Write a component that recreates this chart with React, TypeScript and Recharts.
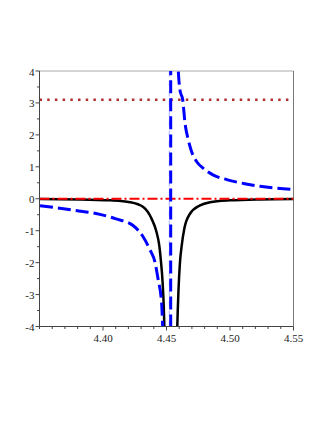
import React from "react";
import { LineChart, Line, XAxis, YAxis, ReferenceLine } from "recharts";

// x tick positions (minor every 0.01) and labelled ones
const xTicks = [
  4.35, 4.36, 4.37, 4.38, 4.39, 4.4, 4.41, 4.42, 4.43, 4.44, 4.45, 4.46, 4.47,
  4.48, 4.49, 4.5, 4.51, 4.52, 4.53, 4.54, 4.55,
];
const xMajor = [4.4, 4.45, 4.5, 4.55];
const xMajorLabels = ["4.40", "4.45", "4.50", "4.55"];

// y ticks every 0.5, labels on the integers
const yTicks = [
  -4, -3.5, -3, -2.5, -2, -1.5, -1, -0.5, 0, 0.5, 1, 1.5, 2, 2.5, 3, 3.5, 4,
];
const yMajor = [-4, -3, -2, -1, 0, 1, 2, 3, 4];
const yMajorLabels = ["-4", "-3", "-2", "-1", "0", "1", "2", "3", "4"];

// black curve, two branches either side of the pole (null = gap)
const blackX = [
  4.3504, 4.3819, 4.4055, 4.4213, 4.4317, 4.4383, 4.4422, 4.4443, 4.4457,
  4.4469, 4.4483, 4.4492, 4.4533, 4.4575, 4.4585, 4.4594, 4.4606, 4.462,
  4.464, 4.4685, 4.4764, 4.4843, 4.5, 4.5236, 4.55,
];
const blackY: (number | null)[] = [
  -0.01, -0.02, -0.05, -0.11, -0.26, -0.63, -1.05, -1.46, -1.99, -2.6, -4.0,
  -6.0, null, -6.0, -4.0, -2.9, -1.99, -1.46, -0.94, -0.47, -0.21, -0.11,
  -0.05, -0.02, -0.01,
];

// blue dashed curve, crossing the pole from -inf to +inf
const blueX = [
  4.3504, 4.363, 4.3787, 4.3945, 4.4102, 4.4234, 4.4317, 4.437, 4.4409,
  4.4433, 4.4462, 4.447, 4.449, 4.4532, 4.4534, 4.4575, 4.4593, 4.4606,
  4.4628, 4.4646, 4.4672, 4.4698, 4.4738, 4.479, 4.4869, 4.4974, 4.5105,
  4.5236, 4.55,
];
const blueY = [
  -0.22, -0.28, -0.37, -0.46, -0.63, -0.83, -1.2, -1.6, -1.98, -2.5, -3.3,
  -4.0, -6.0, -60, 60, 6.0, 4.0, 3.4, 3.09, 2.36, 1.84, 1.47, 1.16, 0.95,
  0.74, 0.6, 0.48, 0.39, 0.29,
];

const piLevel = 3.1;
const zeroLevel = 0;
const poleX = 4.4522;
const xDomain = [4.35, 4.55];
const yDomain = [-4, 4];

const zip = (xs: number[], ys: (number | null)[]) =>
  xs.map((x, i) => ({ x, y: ys[i] }));

const blackData = zip(blackX, blackY);
const blueData = zip(blueX, blueY);
const piData = xDomain.map((x) => ({ x, y: piLevel }));
const zeroData = xDomain.map((x) => ({ x, y: zeroLevel }));

const near = (a: number, b: number) => Math.abs(a - b) < 1e-6;
const font = "'Liberation Serif', 'DejaVu Serif', serif";

const XTick = (props: any) => {
  const { x, y, payload } = props;
  const i = xMajor.findIndex((m) => near(m, payload.value));
  return (
    <g>
      <line x1={x} y1={y} x2={x} y2={y + (i >= 0 ? 4 : 2.5)} stroke="#444" />
      {i >= 0 && (
        <text x={x} y={y + 15.5} textAnchor="middle" fontSize={11} fontFamily={font} fill="#222">
          {xMajorLabels[i]}
        </text>
      )}
    </g>
  );
};

const YTick = (props: any) => {
  const { x, y, payload } = props;
  const i = yMajor.findIndex((m) => near(m, payload.value));
  return (
    <g>
      <line x1={x - (i >= 0 ? 4 : 2.5)} y1={y} x2={x} y2={y} stroke="#444" />
      {i >= 0 && (
        <text x={x - 5} y={y + 4.5} textAnchor="end" fontSize={11} fontFamily={font} fill="#222">
          {yMajorLabels[i]}
        </text>
      )}
    </g>
  );
};

export default function App() {
  return (
    <div style={{ position: "absolute", left: 0, top: 0, width: 327, height: 423, background: "#fff" }}>
      <LineChart
        width={327}
        height={423}
        margin={{ top: 71, right: 33.5, bottom: 66.5, left: 0 }}
      >
        <XAxis
          dataKey="x"
          type="number"
          domain={xDomain}
          ticks={xTicks}
          interval={0}
          allowDataOverflow
          height={30}
          tickSize={0}
          tickMargin={0}
          tick={<XTick />}
          stroke="#444"
        />
        <YAxis
          type="number"
          domain={yDomain}
          ticks={yTicks}
          interval={0}
          allowDataOverflow
          width={39.5}
          tickSize={0}
          tickMargin={0}
          tick={<YTick />}
          stroke="#444"
        />
        <ReferenceLine y={4} stroke="#aaa" />
        <ReferenceLine x={4.55} stroke="#777" />
        <ReferenceLine x={poleX} stroke="#aab0ff" strokeDasharray="6 4" />
        <Line
          data={blackData}
          dataKey="y"
          type="monotoneX"
          stroke="#000"
          strokeWidth={2.5}
          dot={false}
          connectNulls={false}
          isAnimationActive={false}
        />
        <Line
          data={zeroData}
          dataKey="y"
          type="linear"
          stroke="#ff0000"
          strokeWidth={2}
          strokeDasharray="10 3 2 3"
          dot={false}
          isAnimationActive={false}
        />
        <Line
          data={piData}
          dataKey="y"
          type="linear"
          stroke="#b03030"
          strokeWidth={2.5}
          strokeDasharray="2.5 5.2"
          dot={false}
          isAnimationActive={false}
        />
        <Line
          data={blueData}
          dataKey="y"
          type="monotoneX"
          stroke="#0000ff"
          strokeWidth={3}
          strokeDasharray="13 5"
          dot={false}
          isAnimationActive={false}
        />
      </LineChart>
    </div>
  );
}
